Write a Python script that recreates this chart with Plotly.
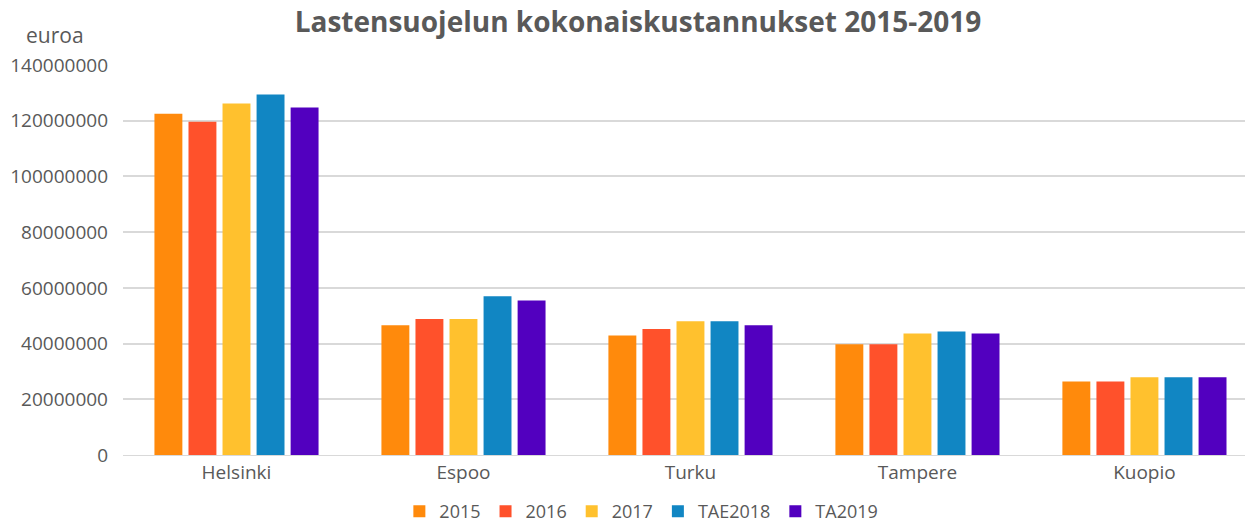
import plotly.graph_objects as go

cities = ["Helsinki", "Espoo", "Turku", "Tampere", "Kuopio"]
series_names = ["2015", "2016", "2017", "TAE2018", "TA2019"]
v2015 = [122.5e6, 46.6e6, 42.9e6, 39.8e6, 26.4e6]
v2016 = [119.6e6, 48.8e6, 45.2e6, 39.8e6, 26.4e6]
v2017 = [126.2e6, 48.8e6, 48.0e6, 43.6e6, 27.9e6]
vTAE2018 = [129.4e6, 57.0e6, 48.0e6, 44.3e6, 27.9e6]
vTA2019 = [124.7e6, 55.5e6, 46.6e6, 43.6e6, 27.9e6]
values = [v2015, v2016, v2017, vTAE2018, vTA2019]
colors = ["#FF8A0C", "#FF512B", "#FFC12E", "#1186C3", "#5200BF"]
ytick_vals = [0, 20e6, 40e6, 60e6, 80e6, 100e6, 120e6, 140e6]
ytick_text = ["0", "20000000", "40000000", "60000000", "80000000", "100000000", "120000000", "140000000"]

font_family = "'Open Sans', Lato, sans-serif"
grey = "#595959"

fig = go.Figure()
for name, vals, col in zip(series_names, values, colors):
    fig.add_trace(go.Bar(x=cities, y=vals, name=name, marker=dict(color=col, line=dict(width=0))))

fig.update_layout(
    width=1256, height=522,
    barmode="group", bargap=0.25, bargroupgap=0.18,
    paper_bgcolor="white", plot_bgcolor="white",
    margin=dict(l=123, r=11, t=65, b=67, autoexpand=False),
    font=dict(family=font_family, color=grey, size=16),
    title=dict(text="<b>Lastensuojelun kokonaiskustannukset 2015-2019</b>",
               x=638/1256, xanchor="center", y=0.957, yanchor="middle",
               font=dict(size=28, color=grey, family=font_family)),
    showlegend=True,
    legend=dict(orientation="h", x=0.462, xanchor="center", y=-0.145, yanchor="middle",
                font=dict(size=18, color=grey), itemwidth=30, traceorder="normal"),
    xaxis=dict(showgrid=False, showline=True, linecolor="#D9D9D9", linewidth=1,
               range=[-0.5, 4.443],
               tickfont=dict(size=19, color=grey), ticks=""),
    yaxis=dict(range=[0, 140e6], tickvals=ytick_vals, ticktext=ytick_text,
               showgrid=True, gridcolor="#D9D9D9", gridwidth=1.5, zeroline=False,
               tickfont=dict(size=19, color=grey), ticks="", ticklabelstandoff=14),
    annotations=[dict(text="euroa", xref="paper", yref="paper", x=-0.0606, y=1.0,
                      xanchor="center", yanchor="middle", yshift=30, showarrow=False,
                      font=dict(size=21, color=grey))],
)

fig.write_html("out.html", config={"displayModeBar": False},
               post_script="document.body.style.margin='0';")
